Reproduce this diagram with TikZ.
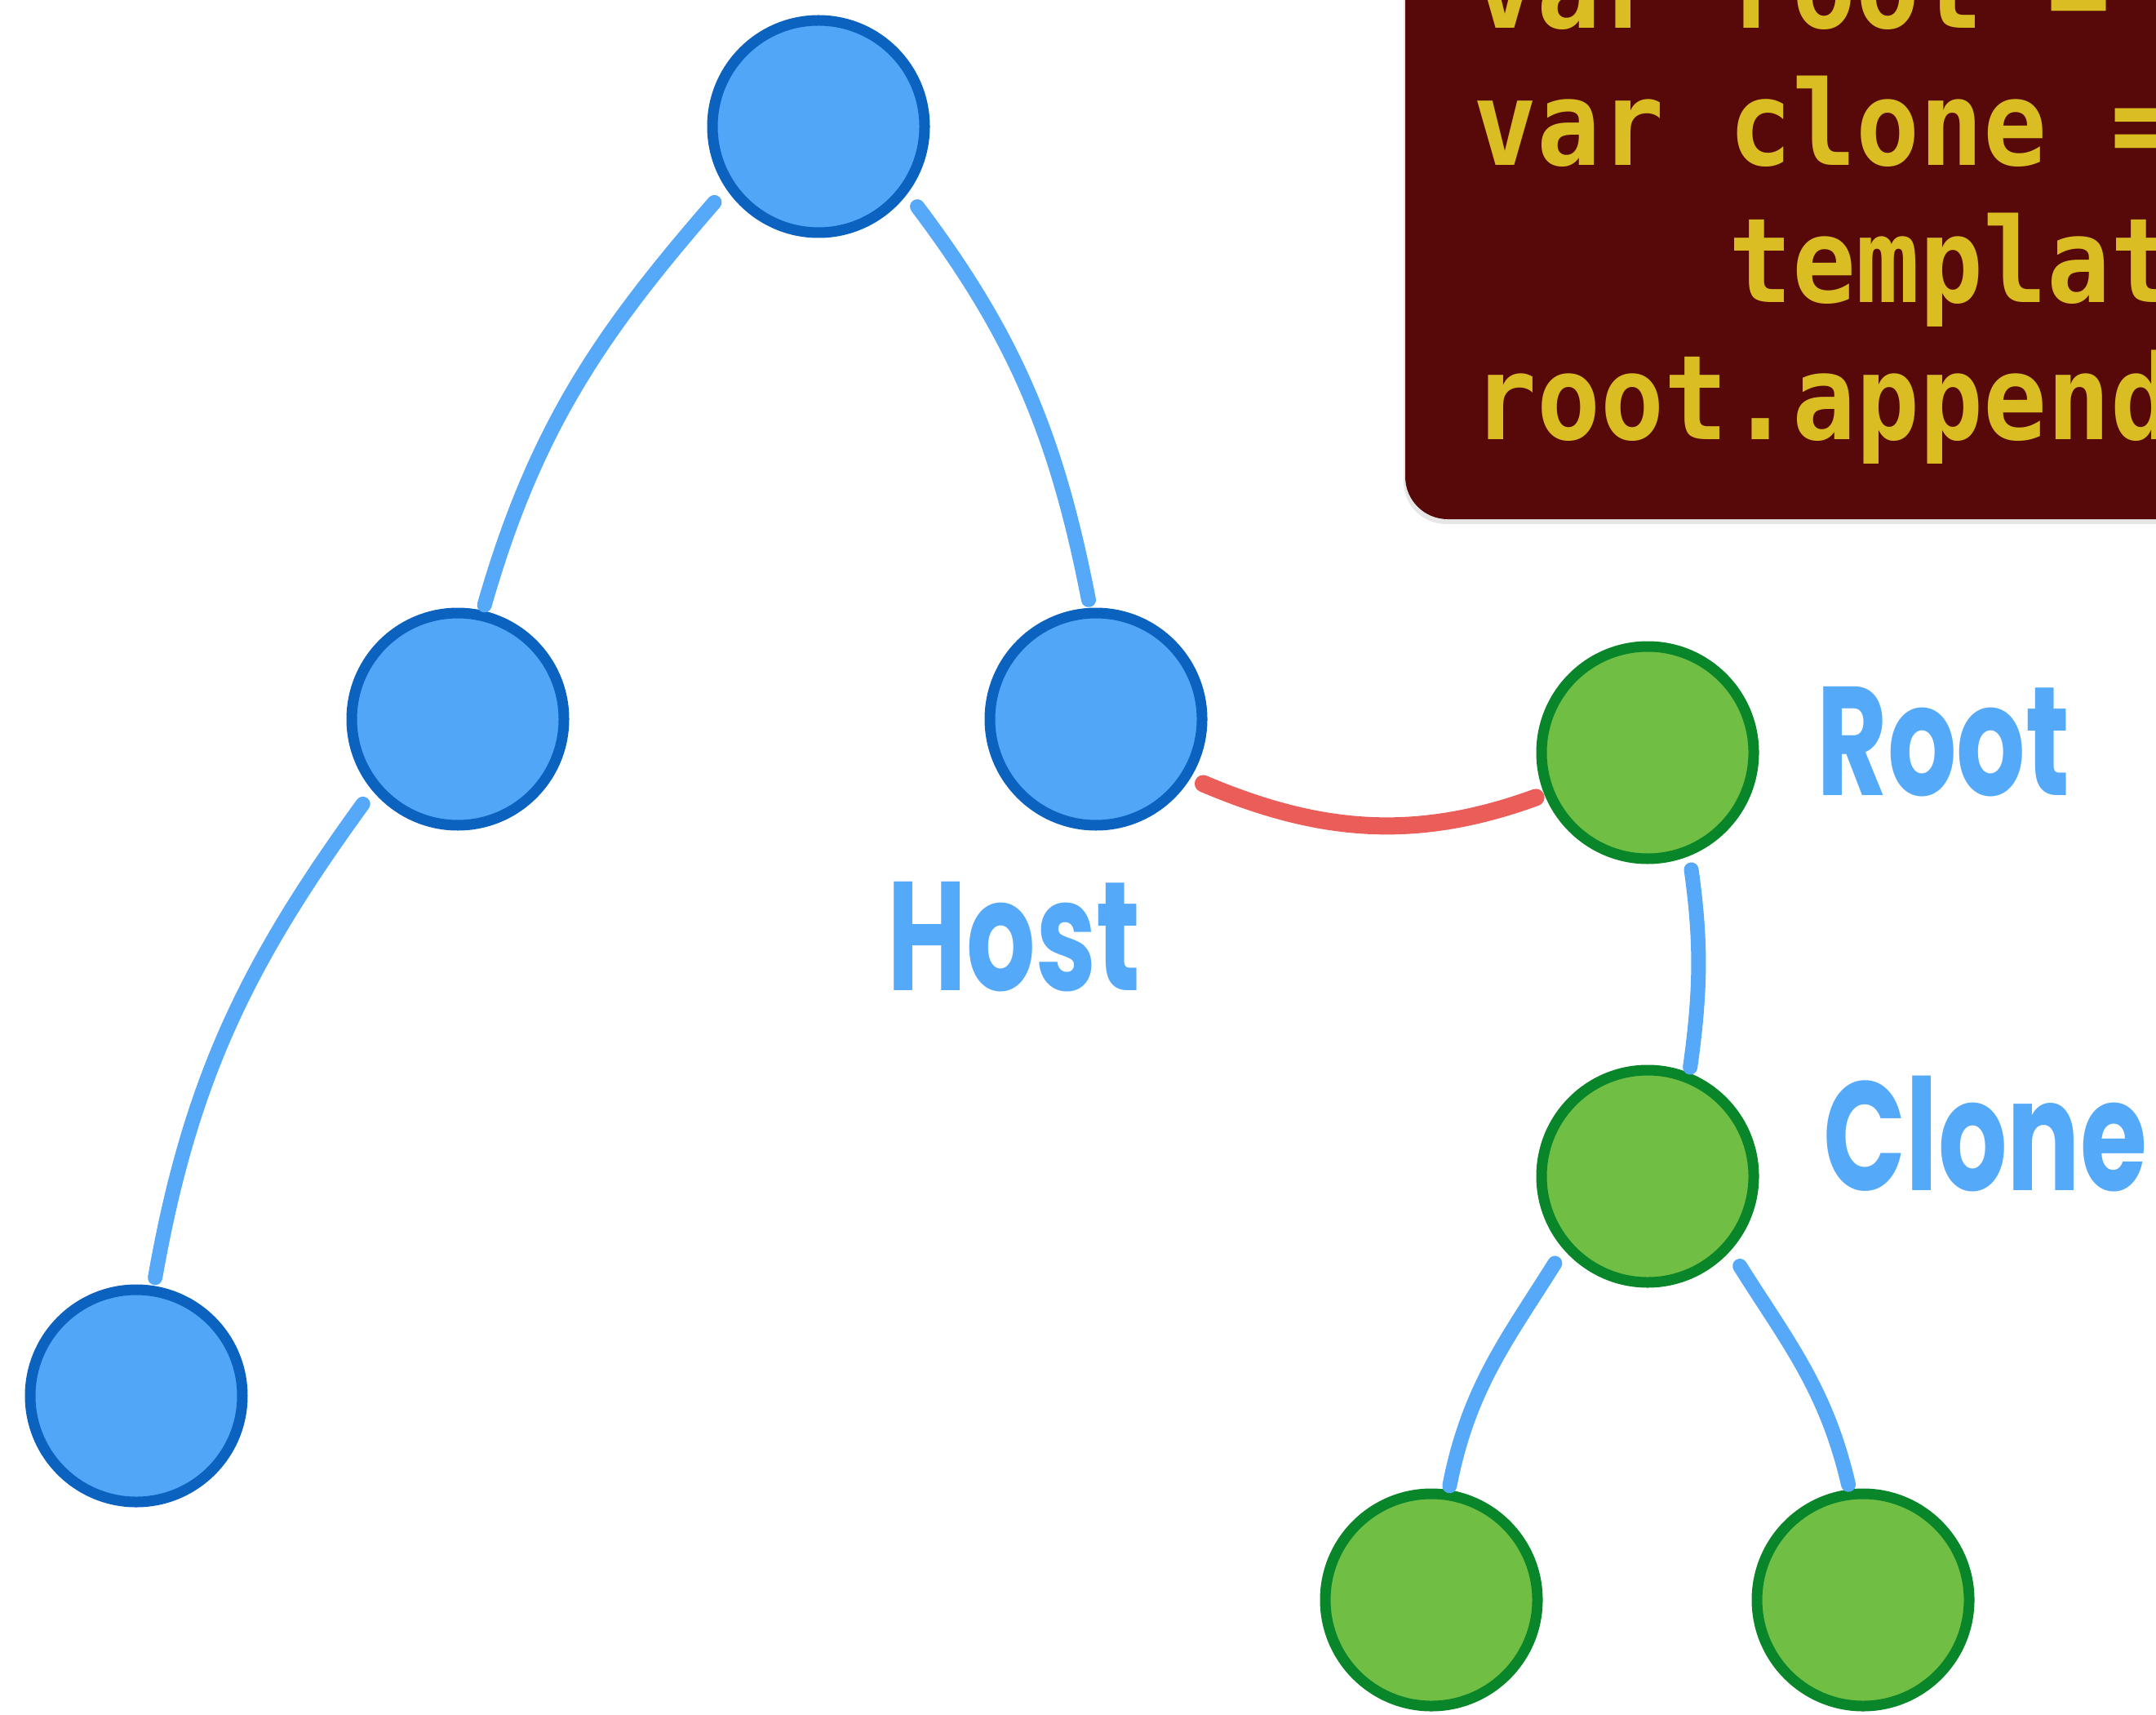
\documentclass[tikz,border=0pt]{standalone}
\usepackage{fontspec}
\usepackage{xcolor}
\usepackage{tikz}
\usetikzlibrary{positioning,shadows,calc}
\newfontfamily\codefont{DejaVu Sans Mono}[FakeStretch=0.9]
\newfontfamily\handfont{Poppins}[FakeStretch=0.7]
\definecolor{hostfill}{RGB}{82,166,248}
\definecolor{hostline}{RGB}{11,99,191}
\definecolor{clonefill}{RGB}{112,190,68}
\definecolor{cloneline}{RGB}{10,134,42}
\definecolor{linkblue}{RGB}{86,168,248}
\definecolor{attachred}{RGB}{234,93,88}
\definecolor{codebg}{RGB}{87,8,9}
\definecolor{codefg}{RGB}{218,189,34}
\definecolor{namecol}{RGB}{85,169,249}
\tikzset{
  hostnode/.style={circle, minimum size=2.6cm, inner sep=0pt, fill=hostfill, draw=hostline, line width=0.13cm},
  clonenode/.style={circle, minimum size=2.6cm, inner sep=0pt, fill=clonefill, draw=cloneline, line width=0.13cm},
  link/.style={draw=linkblue, line width=0.18cm, line cap=round},
  attach/.style={draw=attachred, line width=0.21cm, line cap=round},
  codeline/.style={anchor=base west, inner sep=0pt, text=codefg, font=\codefont\bfseries\fontsize{41}{48}\selectfont},
  namelabel/.style={anchor=base west, inner sep=0pt, text=namecol, font=\handfont\bfseries\fontsize{54}{60}\selectfont}
}

\begin{document}
\begin{tikzpicture}
    \useasboundingbox (0,0) rectangle (26.42,21);
    % Code box
    \begin{scope}
      \clip (0,0) rectangle (26.42,21);
      \fill[codebg, rounded corners=0.52cm, drop shadow={shadow xshift=-0.02cm, shadow yshift=-0.06cm, opacity=0.2}] (17.22,14.64) rectangle (27.5,22);
      \node[codeline] (c1) at (18.05,20.65) {var root =};
      \node[codeline] (c2) at (18.05,18.97) {var clone =};
      \node[codeline] (c3) at (18.05,17.29) {\hphantom{root}template};
      \node[codeline] (c4) at (18.05,15.61) {root.append};
    \end{scope}
    % Host tree
    \node[hostnode] (top) at (10.03,19.45) {};
    \node[hostnode] (ml) at (5.61,12.19) {};
    \node[hostnode] (mr) at (13.43,12.19) {};
    \node[hostnode] (bl) at (1.67,3.90) {};
    % Shadow tree
    \node[clonenode] (root) at (20.19,11.78) {};
    \node[clonenode] (clone) at (20.19,6.59) {};
    \node[clonenode] (ll) at (17.54,1.40) {};
    \node[clonenode] (lr) at (22.83,1.40) {};
    % Links
    \draw[link, shorten >=0.07cm, shorten <=0.22cm] (top.214) to[out=229, in=74] (ml.77);
    \draw[link, shorten >=0.1cm, shorten <=0.2cm] (top.323) to[out=307, in=101] (mr.93);
    \draw[link, shorten >=0.1cm, shorten <=0.2cm] (ml.220) to[out=234, in=80] (bl.81);
    \draw[link, shorten >=0.07cm, shorten <=0.17cm] (root.292) to[out=278, in=82] (clone.68);
    \draw[link, shorten >=0.05cm, shorten <=0.2cm] (clone.221) to[out=238, in=79] (ll.81);
    \draw[link, shorten >=0.06cm, shorten <=0.22cm] (clone.318) to[out=302, in=103] (lr.97);
    \draw[attach, shorten >=0.11cm, shorten <=0.17cm] (mr.328) to[out=337, in=200] (root.202);
    % Labels
    \node[namelabel] (hostlbl) at (10.87,8.87) {Host};
    \node[namelabel] (rootlbl) at (22.26,11.26) {Root};
    \node[namelabel] (clonelbl) at (22.34,6.42) {Clone};
\end{tikzpicture}
\end{document}
